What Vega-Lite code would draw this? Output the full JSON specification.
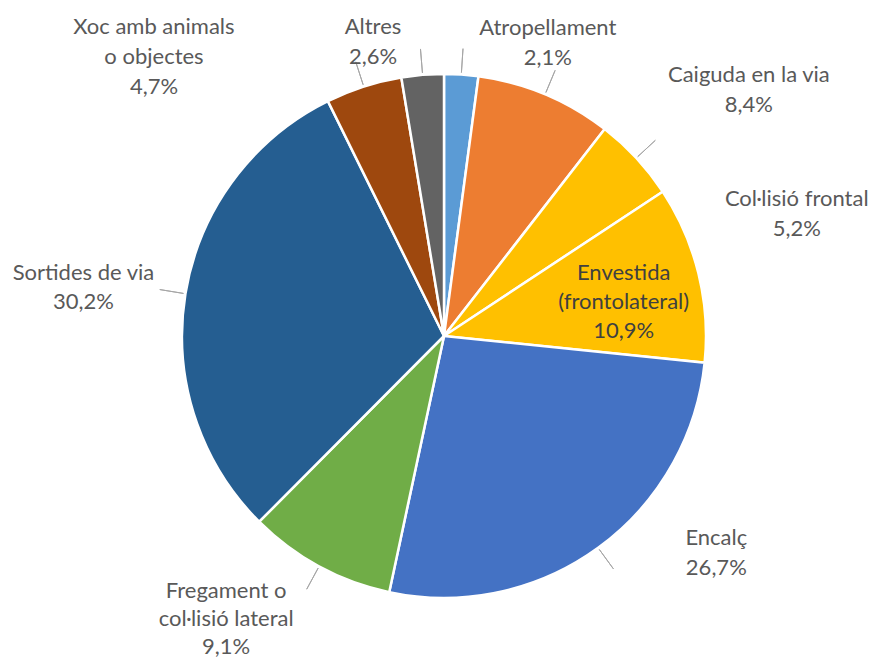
{
  "$schema": "https://vega.github.io/schema/vega-lite/v6.json",
  "width": 856,
  "height": 648,
  "autosize": {"type": "none"},
  "padding": {"left": 16, "top": 12, "right": 0, "bottom": 0},
  "background": "white",
  "config": {"view": {"stroke": null}},
  "data": {
    "values": [
      {"order": 1, "category": "Atropellament", "value": 2.1, "label": "Atropellament\n2,1%"},
      {"order": 2, "category": "Caiguda en la via", "value": 8.4, "label": "Caiguda en la via\n8,4%"},
      {"order": 3, "category": "Col·lisió frontal", "value": 5.2, "label": "Col·lisió frontal\n5,2%"},
      {"order": 4, "category": "Envestida (frontolateral)", "value": 10.9, "label": "Envestida\n(frontolateral)\n10,9%"},
      {"order": 5, "category": "Encalç", "value": 26.7, "label": "Encalç\n26,7%"},
      {"order": 6, "category": "Fregament o col·lisió lateral", "value": 9.1, "label": "Fregament o\ncol·lisió lateral\n9,1%"},
      {"order": 7, "category": "Sortides de via", "value": 30.2, "label": "Sortides de via\n30,2%"},
      {"order": 8, "category": "Xoc amb animals o objectes", "value": 4.7, "label": "Xoc amb animals\no objectes\n4,7%"},
      {"order": 9, "category": "Altres", "value": 2.6, "label": "Altres\n2,6%"}
    ]
  },
  "transform": [
    {"stack": "value", "groupby": [], "as": ["start", "end"], "sort": [{"field": "order", "order": "ascending"}]},
    {"calculate": "(datum.start + datum.end) / 2", "as": "mid"}
  ],
  "layer": [
    {
      "mark": {"type": "arc", "radius": 262, "stroke": "white", "strokeWidth": 2.5},
      "encoding": {
        "theta": {"field": "start", "type": "quantitative", "scale": {"domain": [0, 99.9]}},
        "theta2": {"field": "end"},
        "color": {
          "field": "category",
          "type": "nominal",
          "legend": null,
          "scale": {
            "domain": ["Atropellament", "Caiguda en la via", "Col·lisió frontal", "Envestida (frontolateral)", "Encalç", "Fregament o col·lisió lateral", "Sortides de via", "Xoc amb animals o objectes", "Altres"],
            "range": ["#5B9BD5", "#ED7D31", "#FFC000", "#FFC000", "#4472C4", "#70AD47", "#255E91", "#9E480E", "#636363"]
          }
        }
      }
    },
    {
      "transform": [{"filter": "datum.category !== 'Envestida (frontolateral)'"}],
      "mark": {"type": "arc", "radius": 288, "radius2": 264, "filled": false, "stroke": "#A6A6A6", "strokeWidth": 1},
      "encoding": {
        "theta": {"field": "mid", "type": "quantitative", "scale": {"domain": [0, 99.9]}},
        "theta2": {"field": "mid"}
      }
    },
    {
      "transform": [{"filter": "datum.category === 'Atropellament'"}],
      "mark": {"type": "text", "radius": 300, "dx": 84, "dy": -9, "lineBreak": "\n", "font": "Lato", "fontSize": 22, "lineHeight": 30, "fill": "#595959", "align": "center", "baseline": "middle"},
      "encoding": {"theta": {"field": "mid", "type": "quantitative", "scale": {"domain": [0, 99.9]}}, "text": {"field": "label"}}
    },
    {
      "transform": [{"filter": "datum.category === 'Altres'"}],
      "mark": {"type": "text", "radius": 282, "dx": -48, "dy": -28, "lineBreak": "\n", "font": "Lato", "fontSize": 22, "lineHeight": 30, "fill": "#595959", "align": "center", "baseline": "middle"},
      "encoding": {"theta": {"field": "mid", "type": "quantitative", "scale": {"domain": [0, 99.9]}}, "text": {"field": "label"}}
    },
    {
      "transform": [{"filter": "datum.category === 'Xoc amb animals o objectes'"}],
      "mark": {"type": "text", "radius": 320, "dx": -192, "dy": -4, "lineBreak": "\n", "font": "Lato", "fontSize": 22, "lineHeight": 30, "fill": "#595959", "align": "center", "baseline": "middle"},
      "encoding": {"theta": {"field": "mid", "type": "quantitative", "scale": {"domain": [0, 99.9]}}, "text": {"field": "label"}}
    },
    {
      "transform": [{"filter": "datum.category === 'Caiguda en la via'"}],
      "mark": {"type": "text", "radius": 264, "dx": 203, "dy": -17, "lineBreak": "\n", "font": "Lato", "fontSize": 22, "lineHeight": 30, "fill": "#595959", "align": "center", "baseline": "middle"},
      "encoding": {"theta": {"field": "mid", "type": "quantitative", "scale": {"domain": [0, 99.9]}}, "text": {"field": "label"}}
    },
    {
      "transform": [{"filter": "datum.category === 'Col·lisió frontal'"}],
      "mark": {"type": "text", "radius": 264, "dx": 159, "dy": 42, "lineBreak": "\n", "font": "Lato", "fontSize": 22, "lineHeight": 30, "fill": "#595959", "align": "center", "baseline": "middle"},
      "encoding": {"theta": {"field": "mid", "type": "quantitative", "scale": {"domain": [0, 99.9]}}, "text": {"field": "label"}}
    },
    {
      "transform": [{"filter": "datum.category === 'Envestida (frontolateral)'"}],
      "mark": {"type": "text", "radius": 185, "dx": 0, "dy": -19, "lineBreak": "\n", "font": "Lato", "fontSize": 22, "lineHeight": 29, "fill": "#404040", "align": "center", "baseline": "middle"},
      "encoding": {"theta": {"field": "mid", "type": "quantitative", "scale": {"domain": [0, 99.9]}}, "text": {"field": "label"}}
    },
    {
      "transform": [{"filter": "datum.category === 'Encalç'"}],
      "mark": {"type": "text", "radius": 264, "dx": 117, "dy": -11, "lineBreak": "\n", "font": "Lato", "fontSize": 22, "lineHeight": 30, "fill": "#595959", "align": "center", "baseline": "middle"},
      "encoding": {"theta": {"field": "mid", "type": "quantitative", "scale": {"domain": [0, 99.9]}}, "text": {"field": "label"}}
    },
    {
      "transform": [{"filter": "datum.category === 'Fregament o col·lisió lateral'"}],
      "mark": {"type": "text", "radius": 264, "dx": -92, "dy": 23, "lineBreak": "\n", "font": "Lato", "fontSize": 22, "lineHeight": 28, "fill": "#595959", "align": "center", "baseline": "middle"},
      "encoding": {"theta": {"field": "mid", "type": "quantitative", "scale": {"domain": [0, 99.9]}}, "text": {"field": "label"}}
    },
    {
      "transform": [{"filter": "datum.category === 'Sortides de via'"}],
      "mark": {"type": "text", "radius": 264, "dx": -100, "dy": -20, "lineBreak": "\n", "font": "Lato", "fontSize": 22, "lineHeight": 29, "fill": "#595959", "align": "center", "baseline": "middle"},
      "encoding": {"theta": {"field": "mid", "type": "quantitative", "scale": {"domain": [0, 99.9]}}, "text": {"field": "label"}}
    }
  ]
}
